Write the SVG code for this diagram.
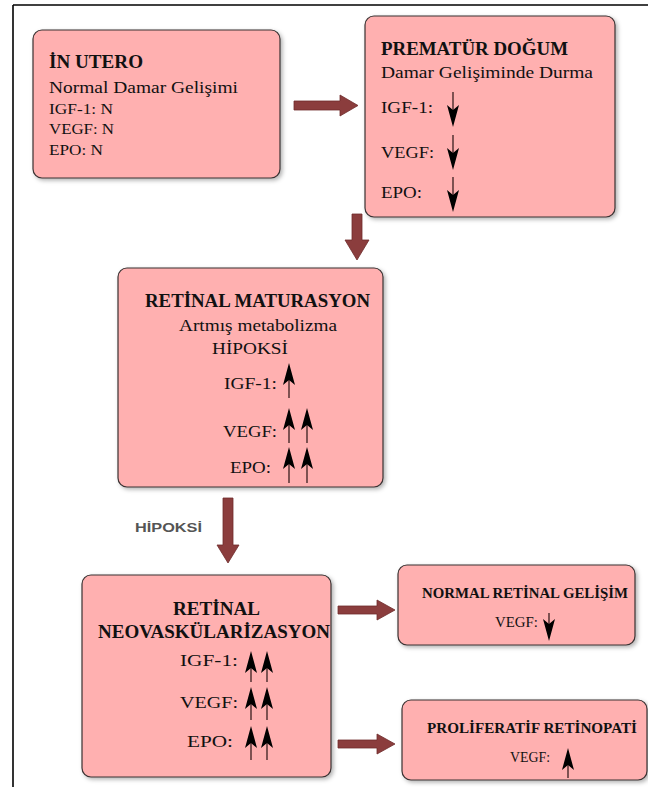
<svg xmlns="http://www.w3.org/2000/svg" width="648" height="787" viewBox="0 0 648 787">
<style>
.box{fill:#ffb0b0;stroke:#3a3232;stroke-width:1.2;filter:url(#sh)}
.t{font-family:"Liberation Serif","Times New Roman",serif;fill:#111}
.b{font-weight:bold}
.big{fill:#8b3d3d;stroke:#6e2c2c;stroke-width:0.8}
.ln{stroke:#3a2020;stroke-width:1.3}
.hd{fill:#000}
</style>
<defs>
<filter id="sh" x="-10%" y="-10%" width="130%" height="130%">
<feDropShadow dx="2" dy="2" stdDeviation="2" flood-color="#000" flood-opacity="0.3"/>
</filter>
<path id="up" d="M0,0 L6,22 L0,17 L-6,22 Z" class="hd"/>
</defs>
<rect width="648" height="787" fill="#fff"/>
<g id="frame" stroke="#000" stroke-width="1.6">
<line x1="13" y1="5" x2="13" y2="787"/>
<line x1="13" y1="5" x2="648" y2="5"/>
</g>
<g id="connectors">
<path class="big" d="M294,101 H340 V95 L358,105.5 L340,116 V110 H294 Z"/>
<path class="big" d="M352,214 V240 H345 L357,260 L369,240 H362 V214 Z"/>
<path class="big" d="M223,498 V545 H217 L228,563 L239,545 H233 V498 Z"/>
<path class="big" d="M338,606 H377 V600 L395,610 L377,620 V614 H338 Z"/>
<path class="big" d="M338,740 H377 V734 L395,744 L377,754 V748 H338 Z"/>
<text x="135" y="532" font-family="Liberation Sans,Arial,sans-serif" font-weight="bold" font-size="12" fill="#555" textLength="67" lengthAdjust="spacingAndGlyphs">HİPOKSİ</text>
</g>
<g id="in-utero">
<rect class="box" x="33" y="30" width="247" height="148" rx="9"/>
<text class="t b" x="49" y="68" font-size="18" textLength="94" lengthAdjust="spacingAndGlyphs">İN UTERO</text>
<text class="t" x="49" y="93" font-size="17" textLength="189" lengthAdjust="spacingAndGlyphs">Normal Damar Gelişimi</text>
<text class="t" x="49" y="114" font-size="14" textLength="64" lengthAdjust="spacingAndGlyphs">IGF-1: N</text>
<text class="t" x="49" y="134" font-size="14" textLength="65" lengthAdjust="spacingAndGlyphs">VEGF: N</text>
<text class="t" x="49" y="155" font-size="14" textLength="54" lengthAdjust="spacingAndGlyphs">EPO: N</text>
</g>
<g id="prematur">
<rect class="box" x="365" y="16" width="250" height="201" rx="9"/>
<text class="t b" x="381" y="55" font-size="18" textLength="187" lengthAdjust="spacingAndGlyphs">PREMATÜR DOĞUM</text>
<text class="t" x="381" y="78" font-size="17" textLength="212" lengthAdjust="spacingAndGlyphs">Damar Gelişiminde Durma</text>
<text class="t" x="381" y="113" font-size="16" textLength="52" lengthAdjust="spacingAndGlyphs">IGF-1:</text>
<text class="t" x="381" y="158" font-size="16" textLength="53" lengthAdjust="spacingAndGlyphs">VEGF:</text>
<text class="t" x="381" y="198" font-size="16" textLength="41" lengthAdjust="spacingAndGlyphs">EPO:</text>
<line class="ln" x1="453" y1="92" x2="453" y2="115"/><use href="#up" transform="translate(453,127) rotate(180)"/>
<line class="ln" x1="453" y1="135" x2="453" y2="158"/><use href="#up" transform="translate(453,170) rotate(180)"/>
<line class="ln" x1="453" y1="177" x2="453" y2="200"/><use href="#up" transform="translate(453,212) rotate(180)"/>
</g>
<g id="retinal-maturasyon">
<rect class="box" x="118" y="268" width="265" height="219" rx="9"/>
<text class="t b" x="145" y="307" font-size="18" textLength="225" lengthAdjust="spacingAndGlyphs">RETİNAL MATURASYON</text>
<text class="t" x="179" y="331" font-size="16" textLength="158" lengthAdjust="spacingAndGlyphs">Artmış metabolizma</text>
<text class="t" x="212" y="354" font-size="17" textLength="76" lengthAdjust="spacingAndGlyphs">HİPOKSİ</text>
<text class="t" x="224" y="389" font-size="16" textLength="53" lengthAdjust="spacingAndGlyphs">IGF-1:</text>
<text class="t" x="223" y="437" font-size="16" textLength="54" lengthAdjust="spacingAndGlyphs">VEGF:</text>
<text class="t" x="230" y="473" font-size="16" textLength="41" lengthAdjust="spacingAndGlyphs">EPO:</text>
<line class="ln" x1="289" y1="375" x2="289" y2="398"/><use href="#up" transform="translate(289,363)"/>
<line class="ln" x1="289" y1="420" x2="289" y2="443"/><use href="#up" transform="translate(289,408)"/>
<line class="ln" x1="307" y1="420" x2="307" y2="443"/><use href="#up" transform="translate(307,408)"/>
<line class="ln" x1="289" y1="459" x2="289" y2="483"/><use href="#up" transform="translate(289,447)"/>
<line class="ln" x1="307" y1="459" x2="307" y2="483"/><use href="#up" transform="translate(307,447)"/>
</g>
<g id="retinal-neovaskularizasyon">
<rect class="box" x="82" y="575" width="249" height="202" rx="9"/>
<text class="t b" x="173" y="615" font-size="18" textLength="87" lengthAdjust="spacingAndGlyphs">RETİNAL</text>
<text class="t b" x="98" y="638" font-size="18" textLength="232" lengthAdjust="spacingAndGlyphs">NEOVASKÜLARİZASYON</text>
<text class="t" x="180" y="666" font-size="16" textLength="58" lengthAdjust="spacingAndGlyphs">IGF-1:</text>
<text class="t" x="180" y="708" font-size="16" textLength="58" lengthAdjust="spacingAndGlyphs">VEGF:</text>
<text class="t" x="187" y="747" font-size="16" textLength="46" lengthAdjust="spacingAndGlyphs">EPO:</text>
<line class="ln" x1="251" y1="663" x2="251" y2="682"/><use href="#up" transform="translate(251,651)"/>
<line class="ln" x1="267" y1="663" x2="267" y2="682"/><use href="#up" transform="translate(267,651)"/>
<line class="ln" x1="251" y1="699" x2="251" y2="720"/><use href="#up" transform="translate(251,687)"/>
<line class="ln" x1="267" y1="699" x2="267" y2="720"/><use href="#up" transform="translate(267,687)"/>
<line class="ln" x1="251" y1="738" x2="251" y2="760"/><use href="#up" transform="translate(251,726)"/>
<line class="ln" x1="267" y1="738" x2="267" y2="760"/><use href="#up" transform="translate(267,726)"/>
</g>
<g id="normal-retinal-gelisim">
<rect class="box" x="398" y="565" width="237" height="80" rx="9"/>
<text class="t b" x="422" y="598" font-size="14" textLength="206" lengthAdjust="spacingAndGlyphs">NORMAL RETİNAL GELİŞİM</text>
<text class="t" x="495" y="627" font-size="14" textLength="43" lengthAdjust="spacingAndGlyphs">VEGF:</text>
<line class="ln" x1="549" y1="613" x2="549" y2="630"/><use href="#up" transform="translate(549,641) rotate(180)"/>
</g>
<g id="proliferatif-retinopati">
<rect class="box" x="402" y="700" width="245" height="80" rx="9"/>
<text class="t b" x="427" y="733" font-size="15" textLength="210" lengthAdjust="spacingAndGlyphs">PROLİFERATİF RETİNOPATİ</text>
<text class="t" x="510" y="762" font-size="14" textLength="40" lengthAdjust="spacingAndGlyphs">VEGF:</text>
<line class="ln" x1="568" y1="760" x2="568" y2="778"/><use href="#up" transform="translate(568,748)"/>
</g>
</svg>
